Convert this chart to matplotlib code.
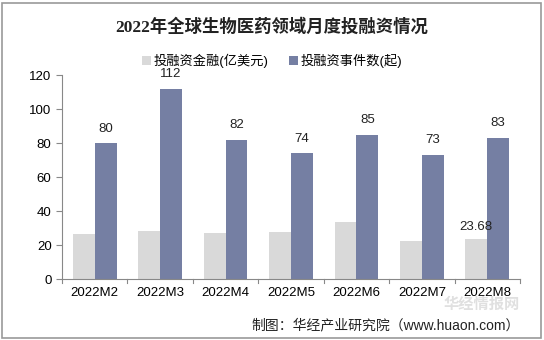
import numpy as np
import matplotlib.pyplot as plt
from matplotlib.patches import Rectangle

plt.rcParams['font.family'] = ['Liberation Sans', 'Noto Sans CJK SC', 'DejaVu Sans']

months = ["2022M2", "2022M3", "2022M4", "2022M5", "2022M6", "2022M7", "2022M8"]
amount = [26.5, 28.2, 27.1, 27.6, 33.5, 22.4, 23.68]
events = [80, 112, 82, 74, 85, 73, 83]

fig = plt.figure(figsize=(5.44, 3.4), dpi=100)
ax = fig.add_axes([62/544, 1-279/340, (520-62)/544, (279-75)/340])

x = np.arange(len(months))
w = 0.335
ax.bar(x - w/2, amount, w, color="#d9d9d9", label="投融资金融(亿美元)")
ax.bar(x + w/2, events, w, color="#757fa3", label="投融资事件数(起)")

for xi, v in zip(x, events):
    ax.text(xi + w/2, v + 5, str(v), ha="center", va="bottom", fontsize=9.5, color="#222222")
ax.text(x[-1] - w/2, amount[-1] + 3.5, "23.68", ha="center", va="bottom", fontsize=9.5, color="#222222")

ax.set_xlim(-0.5, len(months) - 0.5)
ax.set_ylim(0, 120)
ax.set_yticks(range(0, 121, 20))
ax.set_xticks(x)
ax.set_xticklabels(months, fontsize=9.5)
ax.tick_params(axis="y", labelsize=9.5, length=4, color="#888888")
ax.tick_params(axis="x", length=0, pad=6)
for b in np.arange(-0.5, len(months), 1):
    ax.plot([b, b], [0, -2.5], color="#888888", lw=0.8, clip_on=False)
for s in ["top", "right"]:
    ax.spines[s].set_visible(False)
for s in ["left", "bottom"]:
    ax.spines[s].set_color("#888888")
    ax.spines[s].set_linewidth(0.8)

fig.text(0.5, 1-27/340, "2022年全球生物医药领域月度投融资情况", ha="center", va="center",
         fontsize=12.5, fontweight="bold", color="#222222",
         family=['Liberation Serif', 'Noto Sans CJK SC'])
fig.legend(loc="center", bbox_to_anchor=(0.5, 1-61/340), ncol=2, frameon=False,
           fontsize=9.5, handlelength=0.7, handleheight=0.7, columnspacing=1.5, handletextpad=0.2)

# watermark
fig.text(0.815, 1-305/340, "华经情报网", ha="left", va="center", fontsize=11,
         color="#cccccc", alpha=0.6, fontweight="bold")

fig.text(520/544, 1-325/340, "制图：华经产业研究院（www.huaon.com）", ha="right", va="center",
         fontsize=10, color="#222222")

fig.patches.append(Rectangle((0.004, 0.006), 0.99, 0.985, transform=fig.transFigure,
                             fill=False, edgecolor="#999999", lw=1.2))

fig.savefig("out.png", dpi=100)
